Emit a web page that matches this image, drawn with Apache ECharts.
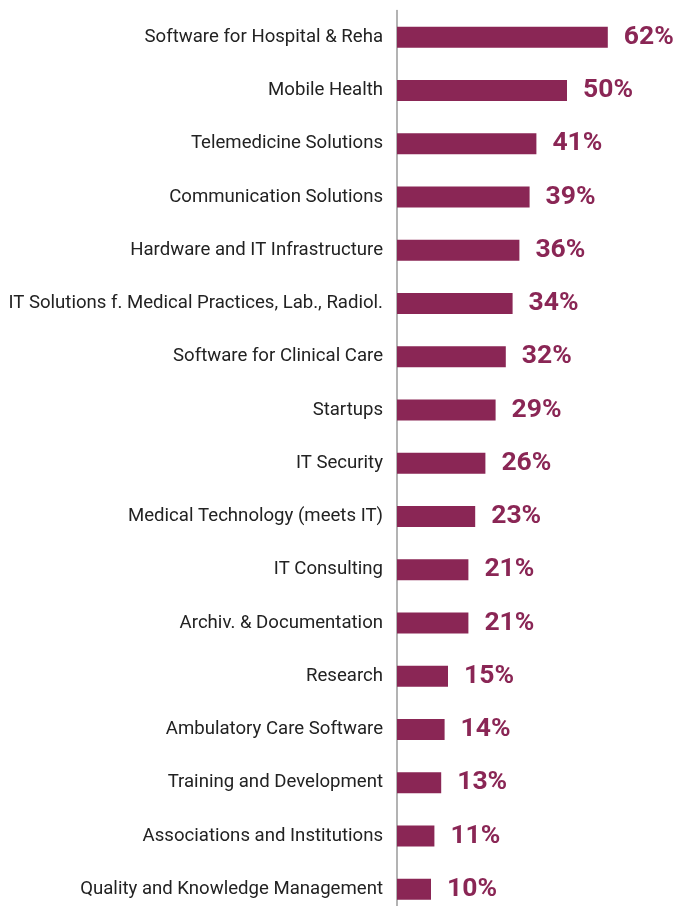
<!DOCTYPE html>
<html><head><meta charset="utf-8">
<script src="https://cdn.jsdelivr.net/npm/echarts@6/dist/echarts.min.js"></script>
<style>html,body{margin:0;padding:0;background:#fff;overflow:hidden}#c{width:675px;height:916px}</style>
</head><body><div id="c"></div>
<script>
const categories = ["Software for Hospital & Reha","Mobile Health","Telemedicine Solutions","Communication Solutions","Hardware and IT Infrastructure","IT Solutions f. Medical Practices, Lab., Radiol.","Software for Clinical Care","Startups","IT Security","Medical Technology (meets IT)","IT Consulting","Archiv. & Documentation","Research","Ambulatory Care Software","Training and Development","Associations and Institutions","Quality and Knowledge Management"];
const values = [62,50,41,39,36,34,32,29,26,23,21,21,15,14,13,11,10];
const chart = echarts.init(document.getElementById('c'));
chart.setOption({
  animation:false,
  grid:{left:397,width:272,top:10.5,bottom:0,containLabel:false},
  xAxis:{type:'value',min:0,max:80,show:false},
  yAxis:{type:'category',data:categories,inverse:true,
    axisLine:{lineStyle:{color:'#9a9a9a',width:1.5}},axisTick:{show:false},
    axisLabel:{fontFamily:'Roboto',fontSize:18.6,color:'#222',margin:14}},
  series:[{type:'bar',data:values,barWidth:21,
    itemStyle:{color:'#8a2655'},
    label:{show:true,position:'right',distance:16,formatter:'{c}%',fontFamily:'Roboto',fontWeight:'bold',fontSize:26.5,color:'#8a2655'}}]
});
</script></body></html>
